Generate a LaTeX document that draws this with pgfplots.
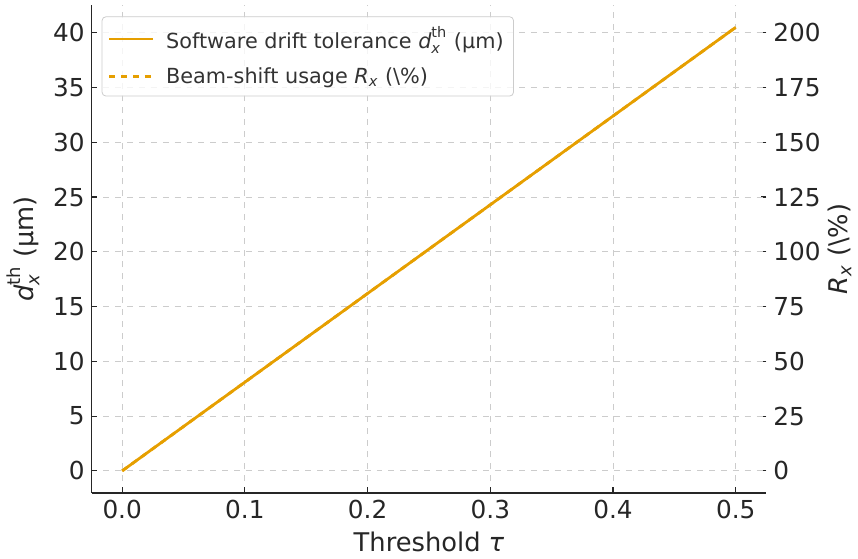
\documentclass[border=0pt]{standalone}
\usepackage{pgfplots}
\pgfplotsset{compat=1.18}
\usepackage{amsmath}
\usepackage{fontspec}
\setmainfont{DejaVu Sans}
\definecolor{lineor}{HTML}{E69F00}
\definecolor{spine}{HTML}{262626}
\definecolor{gridc}{HTML}{CCCCCC}
\definecolor{legtext}{HTML}{333333}

\pgfplotsset{
  common/.style={
    scale only axis, width=341pt, height=246.5pt,
    xmin=-0.025, xmax=0.525,
    major tick length=3pt,
    every tick/.style={draw=spine, line width=0.6pt},
    /pgf/number format/assume math mode=true,
    tick label style={font=\fontsize{12.5}{15}\selectfont, text=spine},
    label style={font=\fontsize{13}{15}\selectfont, text=spine},
  }
}

\begin{document}
\begin{tikzpicture}
% right axis first, so the solid line sits on top
\begin{axis}[
    common,
    axis x line=none,
    axis y line*=right,
    y axis line style={draw=none},
    ymin=-10.125, ymax=212.625,
    ytick={0,25,50,75,100,125,150,175,200},
    ylabel={$\text{\itshape R}_{\text{\itshape x}}$ (\textbackslash\%)},
    ylabel shift=-3pt,
    tick align=inside,
]
\addplot[color=lineor, line width=1.4pt, dashed] coordinates {
    (0,0)(0.1,40.5)(0.2,81)(0.3,121.5)(0.4,162)(0.5,202.5)
};
\end{axis}

\begin{axis}[
    name=main,
    common,
    axis x line*=bottom,
    axis y line*=left,
    axis line style={draw=spine, line width=0.75pt},
    ymin=-2.025, ymax=42.525,
    ytick={0,5,10,15,20,25,30,35,40},
    xtick={0,0.1,0.2,0.3,0.4,0.5},
    xticklabel style={/pgf/number format/.cd, fixed, fixed zerofill, precision=1},
    grid=major,
    major grid style={draw=gridc, dashed, line width=0.5pt},
    xlabel={Threshold {\itshape τ}},
    ylabel={$\text{\itshape d}_{\text{\itshape x}}^{\text{th}}$ (μm)},
    legend style={
        at={(0.015,0.977)}, anchor=north west,
        draw=gridc, rounded corners=2pt, fill=white, fill opacity=0.8, text opacity=1,
        font=\fontsize{10.5}{13}\selectfont, text=legtext,
        row sep=4pt, inner xsep=3pt, inner ysep=3pt,
    },
    legend cell align=left,
    every axis legend/.append style={/tikz/every odd column/.append style={column sep=4pt}},
    legend image code/.code={\draw[#1] (0pt,0pt) -- (22pt,0pt);},
    tick align=inside,
]
\addplot[color=lineor, line width=1.4pt] coordinates {
    (0,0)(0.1,8.1)(0.2,16.2)(0.3,24.3)(0.4,32.4)(0.5,40.5)
};
\addlegendentry{Software drift tolerance $\text{\itshape d}_{\text{\itshape x}}^{\text{th}}$ (μm)}
\addlegendimage{color=lineor, line width=1.4pt, dashed}
\addlegendentry{Beam-shift usage $\text{\itshape R}_{\text{\itshape x}}$ (\textbackslash\%)}
\end{axis}
% a little white margin above the axis, as in the reference
\path (main.north) ++(0pt,2.6pt);
\end{tikzpicture}
\end{document}
